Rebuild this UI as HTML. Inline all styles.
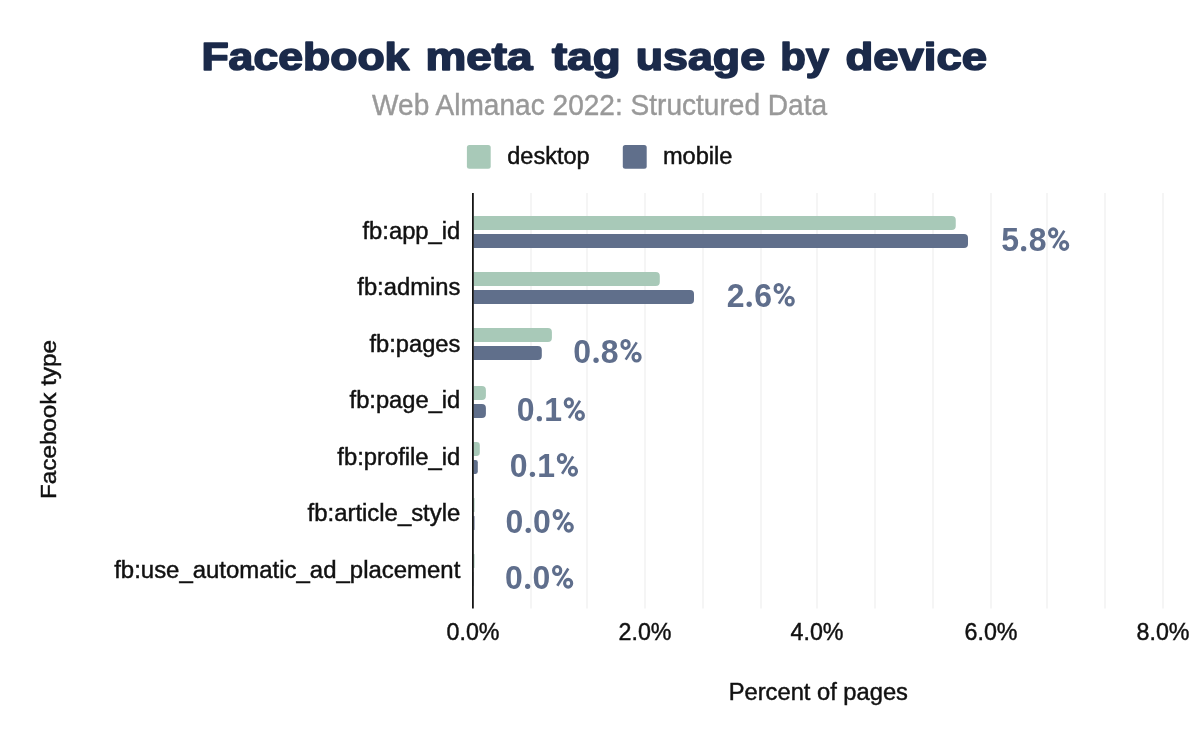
<!DOCTYPE html>
<html><head><meta charset="utf-8"><style>
html,body{margin:0;padding:0;background:#fff;width:1200px;height:742px;overflow:hidden}
svg{display:block;will-change:transform}
text{font-family:"Liberation Sans",sans-serif}
.title{font-weight:bold;font-size:38px;fill:#1b2a4a;stroke:#1b2a4a;stroke-width:1.6px;stroke-linejoin:round}
.sub{font-size:28.6px;fill:#999;stroke:#999;stroke-width:0.4px}
.leg{font-size:23.5px;fill:#111;stroke:#111;stroke-width:0.45px}
.cat{font-size:23.5px;fill:#111;stroke:#111;stroke-width:0.45px}
.tick{font-size:24.5px;fill:#111;stroke:#111;stroke-width:0.45px}
.val{font-weight:bold;font-size:33.5px;fill:#5f6e8c;}
</style></head><body>
<svg width="1200" height="742" viewBox="0 0 1200 742">
<rect width="1200" height="742" fill="#fff"/>
<text x="201.40" y="69.6" class="title" textLength="208.00" lengthAdjust="spacingAndGlyphs">Facebook</text>
<text x="425.50" y="69.6" class="title" textLength="107.10" lengthAdjust="spacingAndGlyphs">meta</text>
<text x="552.00" y="69.6" class="title" textLength="68.60" lengthAdjust="spacingAndGlyphs">tag</text>
<text x="635.80" y="69.6" class="title" textLength="129.20" lengthAdjust="spacingAndGlyphs">usage</text>
<text x="780.20" y="69.6" class="title" textLength="48.80" lengthAdjust="spacingAndGlyphs">by</text>
<text x="845.40" y="69.6" class="title" textLength="141.60" lengthAdjust="spacingAndGlyphs">device</text>
<text x="599.6" y="114.9" class="sub" text-anchor="middle" textLength="455" lengthAdjust="spacingAndGlyphs">Web Almanac 2022: Structured Data</text>
<rect x="466.9" y="144.9" width="23.8" height="23.8" rx="2.5" fill="#a8c9b8"/>
<text x="507.3" y="163.6" class="leg">desktop</text>
<rect x="622.8" y="144.9" width="23.9" height="23.8" rx="2.5" fill="#606f8b"/>
<text x="662.9" y="163.6" class="leg" textLength="69.6" lengthAdjust="spacingAndGlyphs">mobile</text>
<rect x="530.5" y="193" width="1" height="415.5" fill="#ebebeb"/>
<rect x="586.5" y="193" width="1" height="415.5" fill="#ebebeb"/>
<rect x="644.5" y="193" width="1" height="415.5" fill="#ebebeb"/>
<rect x="702.5" y="193" width="1" height="415.5" fill="#ebebeb"/>
<rect x="760.5" y="193" width="1" height="415.5" fill="#ebebeb"/>
<rect x="816.5" y="193" width="1" height="415.5" fill="#ebebeb"/>
<rect x="874.5" y="193" width="1" height="415.5" fill="#ebebeb"/>
<rect x="932.5" y="193" width="1" height="415.5" fill="#ebebeb"/>
<rect x="990.5" y="193" width="1" height="415.5" fill="#ebebeb"/>
<rect x="1046.5" y="193" width="1" height="415.5" fill="#ebebeb"/>
<rect x="1104.5" y="193" width="1" height="415.5" fill="#ebebeb"/>
<rect x="1162.5" y="193" width="1" height="415.5" fill="#ebebeb"/>
<path d="M473.5,216 H951.75 Q955.75,216 955.75,220.00 V226.00 Q955.75,230 951.75,230 H473.5 Z" fill="#a8c9b8"/>
<path d="M473.5,234 H964.00 Q968.00,234 968.00,238.00 V244.00 Q968.00,248 964.00,248 H473.5 Z" fill="#606f8b"/>
<path d="M473.5,272 H655.80 Q659.80,272 659.80,276.00 V282.00 Q659.80,286 655.80,286 H473.5 Z" fill="#a8c9b8"/>
<path d="M473.5,290 H690.00 Q694.00,290 694.00,294.00 V300.00 Q694.00,304 690.00,304 H473.5 Z" fill="#606f8b"/>
<path d="M473.5,328 H547.90 Q551.90,328 551.90,332.00 V338.00 Q551.90,342 547.90,342 H473.5 Z" fill="#a8c9b8"/>
<path d="M473.5,346 H537.80 Q541.80,346 541.80,350.00 V356.00 Q541.80,360 537.80,360 H473.5 Z" fill="#606f8b"/>
<path d="M473.5,386 H481.90 Q485.90,386 485.90,390.00 V396.00 Q485.90,400 481.90,400 H473.5 Z" fill="#a8c9b8"/>
<path d="M473.5,404 H481.90 Q485.90,404 485.90,408.00 V414.00 Q485.90,418 481.90,418 H473.5 Z" fill="#606f8b"/>
<path d="M473.5,442 H476.65 Q479.80,442 479.80,445.15 V452.85 Q479.80,456 476.65,456 H473.5 Z" fill="#a8c9b8"/>
<path d="M473.5,460 H475.65 Q477.80,460 477.80,462.15 V471.85 Q477.80,474 475.65,474 H473.5 Z" fill="#606f8b"/>
<path d="M473.5,498 H474.00 Q474.50,498 474.50,498.50 V511.50 Q474.50,512 474.00,512 H473.5 Z" fill="#a8c9b8"/>
<path d="M473.5,516 H474.00 Q474.50,516 474.50,516.50 V529.50 Q474.50,530 474.00,530 H473.5 Z" fill="#606f8b"/>
<path d="M473.5,554 H474.00 Q474.50,554 474.50,554.50 V567.50 Q474.50,568 474.00,568 H473.5 Z" fill="#a8c9b8"/>
<path d="M473.5,572 H473.65 Q473.80,572 473.80,572.15 V585.85 Q473.80,586 473.65,586 H473.5 Z" fill="#606f8b"/>
<rect x="472" y="193" width="1.8" height="415.5" fill="#161616"/>
<text transform="translate(1001.23,251.3) scale(0.955,1)" class="val">5</text>
<text transform="translate(1028.73,251.3) scale(0.955,1)" class="val">8</text>
<circle cx="1023.65" cy="248.65" r="2.65" fill="#5f6e8c"/>
<g transform="translate(1002.20,251.3)" fill="none" stroke="#5f6e8c"><ellipse cx="50.95" cy="-18.45" rx="3.6" ry="4.0" stroke-width="3.1"/><ellipse cx="61.95" cy="-5.75" rx="3.55" ry="3.9" stroke-width="3.1"/><path d="M51.1,-3.3 L62.1,-20.5" stroke-width="2.6"/></g>
<text x="460.3" y="239" class="cat" text-anchor="end" textLength="97.8" lengthAdjust="spacingAndGlyphs">fb:app_id</text>
<text transform="translate(726.68,306.9) scale(0.955,1)" class="val">2</text>
<text transform="translate(754.18,306.9) scale(0.955,1)" class="val">6</text>
<circle cx="749.20" cy="304.25" r="2.65" fill="#5f6e8c"/>
<g transform="translate(727.75,306.9)" fill="none" stroke="#5f6e8c"><ellipse cx="50.95" cy="-18.45" rx="3.6" ry="4.0" stroke-width="3.1"/><ellipse cx="61.95" cy="-5.75" rx="3.55" ry="3.9" stroke-width="3.1"/><path d="M51.1,-3.3 L62.1,-20.5" stroke-width="2.6"/></g>
<text x="460.3" y="295" class="cat" text-anchor="end" textLength="103.0" lengthAdjust="spacingAndGlyphs">fb:admins</text>
<text transform="translate(573.34,362.9) scale(0.955,1)" class="val">0</text>
<text transform="translate(600.84,362.9) scale(0.955,1)" class="val">8</text>
<circle cx="596.05" cy="360.25" r="2.65" fill="#5f6e8c"/>
<g transform="translate(574.60,362.9)" fill="none" stroke="#5f6e8c"><ellipse cx="50.95" cy="-18.45" rx="3.6" ry="4.0" stroke-width="3.1"/><ellipse cx="61.95" cy="-5.75" rx="3.55" ry="3.9" stroke-width="3.1"/><path d="M51.1,-3.3 L62.1,-20.5" stroke-width="2.6"/></g>
<text x="460.3" y="351.5" class="cat" text-anchor="end" textLength="90.8" lengthAdjust="spacingAndGlyphs">fb:pages</text>
<text transform="translate(516.64,421.3) scale(0.955,1)" class="val">0</text>
<text transform="translate(544.14,421.3) scale(0.955,1)" class="val">1</text>
<circle cx="539.35" cy="418.65" r="2.65" fill="#5f6e8c"/>
<g transform="translate(517.90,421.3)" fill="none" stroke="#5f6e8c"><ellipse cx="50.95" cy="-18.45" rx="3.6" ry="4.0" stroke-width="3.1"/><ellipse cx="61.95" cy="-5.75" rx="3.55" ry="3.9" stroke-width="3.1"/><path d="M51.1,-3.3 L62.1,-20.5" stroke-width="2.6"/></g>
<text x="460.3" y="407.5" class="cat" text-anchor="end" textLength="110.7" lengthAdjust="spacingAndGlyphs">fb:page_id</text>
<text transform="translate(509.74,477) scale(0.955,1)" class="val">0</text>
<text transform="translate(537.24,477) scale(0.955,1)" class="val">1</text>
<circle cx="532.45" cy="474.35" r="2.65" fill="#5f6e8c"/>
<g transform="translate(511.00,477)" fill="none" stroke="#5f6e8c"><ellipse cx="50.95" cy="-18.45" rx="3.6" ry="4.0" stroke-width="3.1"/><ellipse cx="61.95" cy="-5.75" rx="3.55" ry="3.9" stroke-width="3.1"/><path d="M51.1,-3.3 L62.1,-20.5" stroke-width="2.6"/></g>
<text x="460.3" y="464.7" class="cat" text-anchor="end" textLength="123.0" lengthAdjust="spacingAndGlyphs">fb:profile_id</text>
<text transform="translate(505.54,533) scale(0.955,1)" class="val">0</text>
<text transform="translate(533.04,533) scale(0.955,1)" class="val">0</text>
<circle cx="528.25" cy="530.35" r="2.65" fill="#5f6e8c"/>
<g transform="translate(506.80,533)" fill="none" stroke="#5f6e8c"><ellipse cx="50.95" cy="-18.45" rx="3.6" ry="4.0" stroke-width="3.1"/><ellipse cx="61.95" cy="-5.75" rx="3.55" ry="3.9" stroke-width="3.1"/><path d="M51.1,-3.3 L62.1,-20.5" stroke-width="2.6"/></g>
<text x="460.3" y="520.7" class="cat" text-anchor="end" textLength="152.7" lengthAdjust="spacingAndGlyphs">fb:article_style</text>
<text transform="translate(504.94,589) scale(0.955,1)" class="val">0</text>
<text transform="translate(532.44,589) scale(0.955,1)" class="val">0</text>
<circle cx="527.65" cy="586.35" r="2.65" fill="#5f6e8c"/>
<g transform="translate(506.20,589)" fill="none" stroke="#5f6e8c"><ellipse cx="50.95" cy="-18.45" rx="3.6" ry="4.0" stroke-width="3.1"/><ellipse cx="61.95" cy="-5.75" rx="3.55" ry="3.9" stroke-width="3.1"/><path d="M51.1,-3.3 L62.1,-20.5" stroke-width="2.6"/></g>
<text x="460.3" y="577.7" class="cat" text-anchor="end" textLength="346.1" lengthAdjust="spacingAndGlyphs">fb:use_automatic_ad_placement</text>
<text x="473" y="640.2" class="tick" text-anchor="middle" textLength="53" lengthAdjust="spacingAndGlyphs">0.0%</text>
<text x="645" y="640.2" class="tick" text-anchor="middle" textLength="53" lengthAdjust="spacingAndGlyphs">2.0%</text>
<text x="817" y="640.2" class="tick" text-anchor="middle" textLength="53" lengthAdjust="spacingAndGlyphs">4.0%</text>
<text x="991" y="640.2" class="tick" text-anchor="middle" textLength="53" lengthAdjust="spacingAndGlyphs">6.0%</text>
<text x="1163" y="640.2" class="tick" text-anchor="middle" textLength="53" lengthAdjust="spacingAndGlyphs">8.0%</text>
<text x="728.7" y="699.7" class="cat" textLength="179.3" lengthAdjust="spacingAndGlyphs">Percent of pages</text>
<text transform="translate(55.5,499) rotate(-90)" x="0" y="0" class="cat" textLength="159" lengthAdjust="spacingAndGlyphs" style="font-size:22.5px">Facebook type</text>
</svg>
</body></html>
